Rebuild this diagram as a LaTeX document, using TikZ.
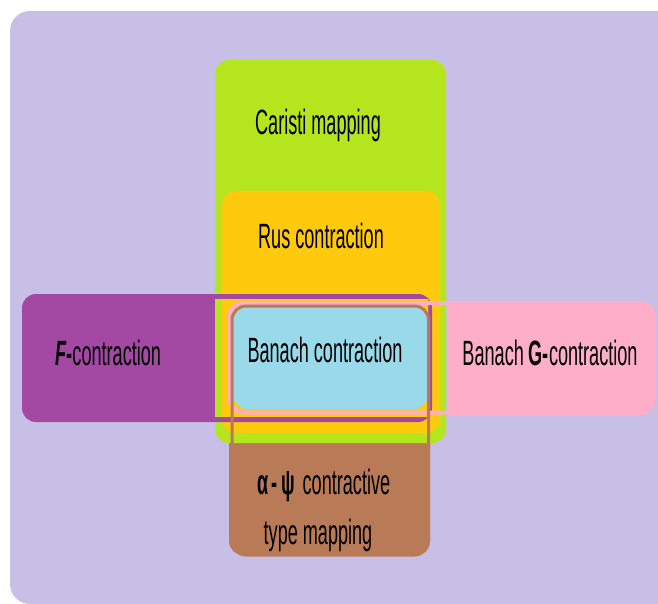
\documentclass[tikz,border=0pt]{standalone}
\usepackage{graphicx}
\usepackage{fontspec}
\setmainfont{Liberation Sans}
\definecolor{lavender}{HTML}{C8BFE7}
\definecolor{limegreen}{HTML}{B5E61D}
\definecolor{amber}{HTML}{FFC90E}
\definecolor{plum}{HTML}{A349A4}
\definecolor{rosepink}{HTML}{FFAEC9}
\definecolor{skyblue}{HTML}{99D9EA}
\definecolor{clay}{HTML}{B97A57}
\newcommand{\narrow}[1]{\scalebox{0.515}[1]{#1}}
\tikzset{
  lbl/.style={anchor=base, inner sep=0pt, font=\fontsize{20}{24}\selectfont},
  rnd/.style={rounded corners=0.28cm}
}

\begin{document}
\begin{tikzpicture}[x=0.02cm, y=-0.02cm]
  \useasboundingbox (0,0) rectangle (658,604);
  \clip (0,0) rectangle (658,604);

  % Background
  \fill[lavender, rounded corners=0.4cm] (10,11) rectangle (720,604);

  % Lower part of the alpha-psi box
  \fill[clay, rnd] (229,304) rectangle (430,555);

  % Caristi mapping and Rus contraction
  \fill[limegreen, rnd] (215,60) rectangle (446,443);
  \fill[amber, rnd] (222,191) rectangle (440,433);

  % F-contraction
  \fill[plum, rnd] (22,294) rectangle (432,422);
  \begin{scope}
    \clip (215,299) rectangle (428,416);
    \fill[limegreen, rnd] (215,60) rectangle (446,443);
    \fill[amber, rnd] (222,191) rectangle (440,433);
  \end{scope}

  % Banach G-contraction
  \draw[rosepink, line width=0.08cm, rnd] (229.5,303) rectangle (600,412.5);
  \begin{scope}
    \clip (447,0) rectangle (658,604);
    \fill[rosepink, rnd] (420,301) rectangle (655,415);
  \end{scope}

  % Banach contraction
  \fill[skyblue, rnd] (233,307) rectangle (428,409);

  % Outline of the alpha-psi box
  \draw[clay, line width=0.06cm, rnd] (232,306) rectangle (428.5,555);

  % Labels
  \node[lbl] (caristi) at (318,135) {\narrow{Caristi mapping}};
  \node[lbl] (rus) at (321,249) {\narrow{Rus contraction}};
  \node[lbl] (banach) at (325,362) {\narrow{Banach contraction}};
  \node[lbl] (fcon) at (108,365) {\narrow{\textbf{\textit{F}-}contraction}};
  \node[lbl] (gcon) at (550,365) {\narrow{Banach \textbf{G-}contraction}};
  \node[lbl] (alphapsi) at (324,494) {\narrow{\textbf{α\,-\,ψ}\, contractive}};
  \node[lbl] (typemap) at (318,544) {\narrow{type mapping}};
\end{tikzpicture}
\end{document}
